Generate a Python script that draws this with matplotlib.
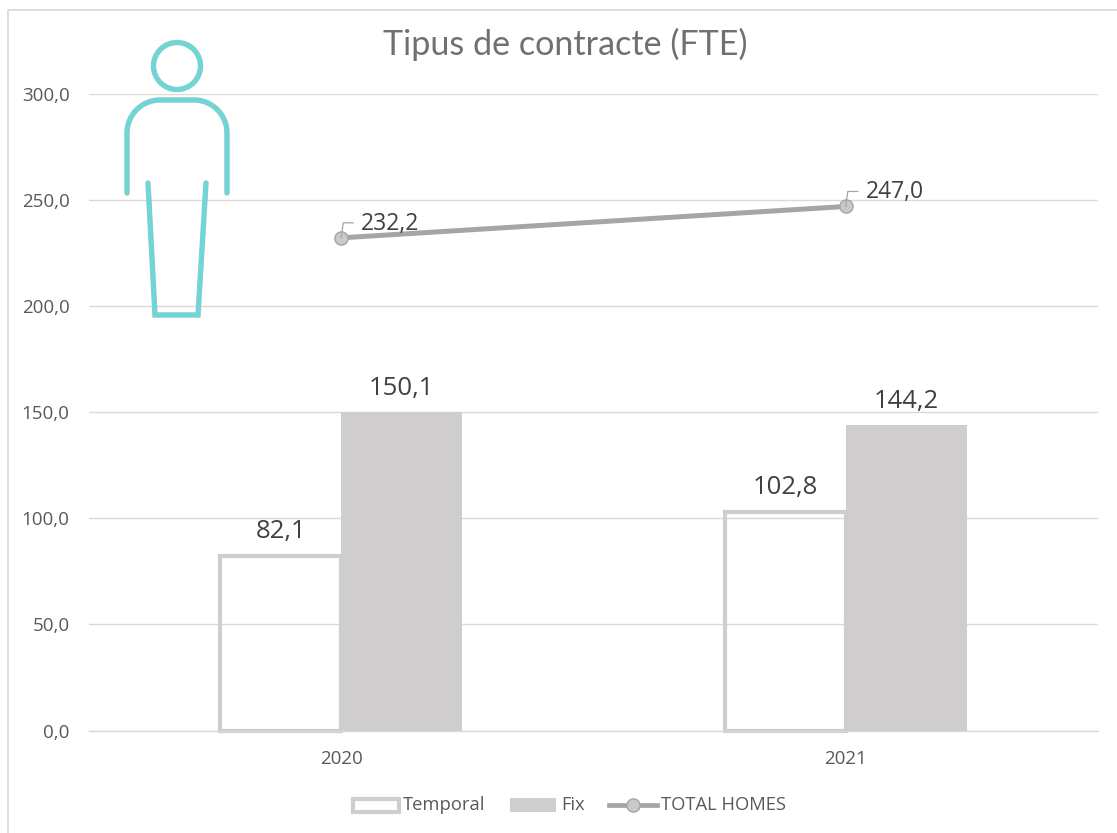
import matplotlib
matplotlib.use("Agg")
import matplotlib.pyplot as plt
import matplotlib.patheffects as pe
from matplotlib.lines import Line2D
from matplotlib.patches import Rectangle, Circle
from matplotlib.transforms import Affine2D
import numpy as np

years = ["2020", "2021"]
temporal = [82.1, 102.8]
fix = [150.1, 144.2]
total = [232.2, 247.0]
yticks = [0, 50, 100, 150, 200, 250, 300]

W, H = 1117, 833
plt.rcParams['font.family'] = ['Open Sans', 'DejaVu Sans']
fig = plt.figure(figsize=(W/100, H/100), dpi=100, facecolor='white')
px = Affine2D().scale(1, -1).translate(0, H)  # pixel coords, y down

# outer frame: only the left and top edges are visible in the reference
fig.add_artist(Line2D([7.5, 7.5, W], [H, 9.5, 9.5], transform=px, color='#D9D9D9', lw=1.2))

L, R, T, B = 89, 1098, 94, 730.5
ax = fig.add_axes([L/W, 1-B/H, (R-L)/W, (B-T)/H])
ax.set_xlim(-0.5, 1.5)
ax.set_ylim(0, 300)
for s in ['top', 'right', 'left']:
    ax.spines[s].set_visible(False)
ax.spines['bottom'].set_color('#D9D9D9')
ax.spines['bottom'].set_linewidth(1)
ax.set_axisbelow(True)
ax.yaxis.grid(True, color='#D9D9D9', lw=1)
ax.tick_params(length=0, labelsize=13.5, labelcolor='#595959')
ax.set_yticks(yticks)
ax.set_yticklabels([f"{v:.1f}".replace('.', ',') for v in yticks])
x = np.arange(len(years))
ax.set_xticks(x)
ax.set_xticklabels(years)
ax.tick_params(axis='x', pad=14)
ax.tick_params(axis='y', pad=14)

bw = 0.24
GREY = '#CFCDCD'
ax.bar(x - bw/2, temporal, bw, fill=False, edgecolor=GREY, linewidth=3, clip_on=False, zorder=2)
ax.bar(x + bw/2, fix, bw, color=GREY, edgecolor='none', zorder=2)
ax.plot(x, total, color='#A5A5A5', lw=3.6, solid_capstyle='butt', marker='o', ms=9.5,
        mfc='#C9C9C9', mec='#A5A5A5', mew=1, zorder=3)

fmt = lambda v: f"{v:.1f}".replace('.', ',')
LAB = '#404040'
for xi, v in zip(x - bw/2, temporal):
    ax.annotate(fmt(v), (xi, v), xytext=(0, 12), textcoords='offset pixels', ha='center', va='bottom', fontsize=18.5, color=LAB)
for xi, v in zip(x + bw/2, fix):
    ax.annotate(fmt(v), (xi, v), xytext=(0, 11), textcoords='offset pixels', ha='center', va='bottom', fontsize=18.5, color=LAB)
for xi, v in zip(x, total):
    ax.annotate(fmt(v), (xi, v), xytext=(20, 14), textcoords='offset pixels', ha='left', va='center', fontsize=16.5, color=LAB, zorder=5)
    px0 = ax.transData.transform((xi, v))
    fig.add_artist(Line2D([px0[0], px0[0]+2, px0[0]+12], [px0[1], px0[1]+15, px0[1]+15],
                          transform=None, color='#A6A6A6', lw=0.9, zorder=6))

fig.text(565/W, 1-44/H, "Tipus de contracte (FTE)", ha='center', va='center',
         fontsize=24.6, color='#707070', family=['Lato', 'DejaVu Sans'])

# person icon (decoration, pixel coordinates)
TEAL = '#6FD6D6'
halo = [pe.withStroke(linewidth=3.9, foreground='#A9C6C6')]
def ic(xs, ys, lw=3.3):
    fig.add_artist(Line2D(xs, ys, transform=px, color=TEAL, lw=lw, solid_capstyle='round',
                          solid_joinstyle='miter', zorder=8, path_effects=halo))
fig.add_artist(Circle((177, 66), 23.5, transform=px, fill=False, ec=TEAL, lw=3.3, zorder=8, path_effects=halo))
a = np.linspace(np.pi, 1.5*np.pi, 30)
xs = np.r_[127, 127 + 33 + 33*np.cos(a), 227 - 33 - 33*np.cos(a[::-1]), 227]
ys = np.r_[193, 133 + 33*np.sin(a), 133 + 33*np.sin(a[::-1]), 193]
ic(xs, ys)
ic([148, 155, 198, 206], [183, 315, 315, 183])

# legend
def rect(x0, y0, w, h, **k):
    fig.add_artist(Rectangle((x0, y0), w, h, transform=px, **k))
rect(353, 798.5, 46, 13, fill=False, ec=GREY, lw=3)
fig.text(403/W, 1-805/H, "Temporal", fontsize=13.2, color='#595959', va='center')
rect(510, 798, 46, 14, fc=GREY, ec='none')
fig.text(561/W, 1-805/H, "Fix", fontsize=13.2, color='#595959', va='center')
fig.add_artist(Line2D([609, 657], [804.5, 804.5], transform=px, color='#A5A5A5', lw=3.4))
fig.add_artist(Line2D([633], [804.5], transform=px, marker='o', ms=9.5, mfc='#C9C9C9', mec='#A5A5A5', mew=1))
fig.text(661/W, 1-805/H, "TOTAL HOMES", fontsize=13.2, color='#595959', va='center')

fig.savefig("out.png", dpi=100)
